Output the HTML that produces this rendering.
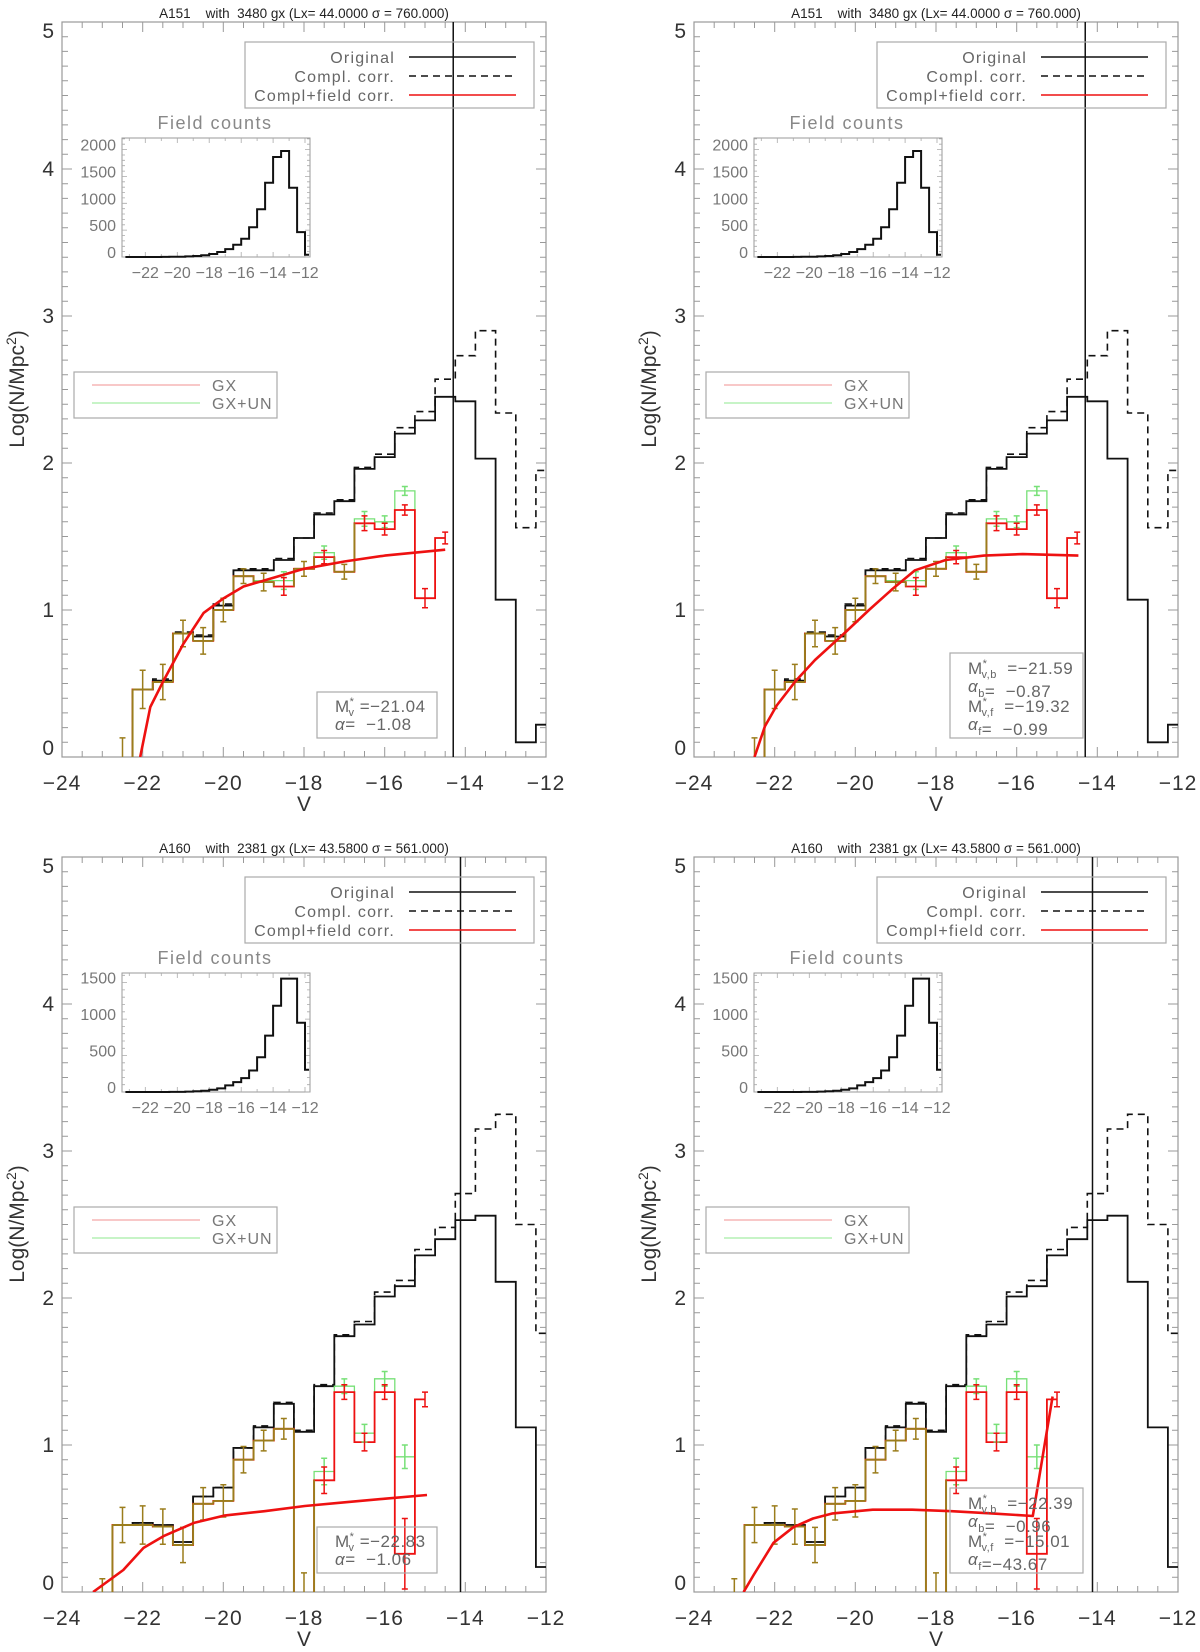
<!DOCTYPE html>
<html><head><meta charset="utf-8"><style>
html,body{margin:0;padding:0;background:#fff;overflow:hidden}
svg{display:block}
text{font-family:"Liberation Sans",sans-serif}
.pre{white-space:pre}
</style></head><body>
<svg id="fig" xmlns="http://www.w3.org/2000/svg" width="1200" height="1652" viewBox="0 0 1200 1652"></svg>
<script>
// ---------------- DATA ----------------
// A151 (top panels)
const a151Centers = [-22.5,-22,-21.5,-21,-20.5,-20,-19.5,-19,-18.5,-18,-17.5,-17,-16.5,-16,-15.5,-15,-14.5,-14,-13.5,-13,-12.5,-12];
const a151Original = [-1,0.46,0.52,0.84,0.82,1.03,1.27,1.27,1.34,1.49,1.65,1.74,1.96,2.04,2.20,2.29,2.45,2.42,2.03,1.07,0.10,0.22];
const a151Compl = [-1,0.46,0.53,0.85,0.83,1.04,1.28,1.28,1.35,1.49,1.66,1.75,1.97,2.06,2.24,2.35,2.57,2.73,2.90,2.34,1.56,1.95];
const a151FieldCenters = [-22.5,-22,-21.5,-21,-20.5,-20,-19.5,-19,-18.5,-18,-17.5,-17,-16.5,-16,-15.5,-15,-14.5];
const a151GX = [-0.5,0.46,0.51,0.84,0.79,1.00,1.23,1.19,1.16,1.28,1.36,1.26,1.59,1.55,1.68,1.08,1.49];
const a151GXUN = [-0.5,0.46,0.51,0.84,0.79,1.00,1.23,1.20,1.20,1.28,1.39,1.26,1.62,1.60,1.81,1.08,1.49];
const a151Err = [0.63,0.13,0.12,0.09,0.09,0.08,0.05,0.06,0.06,0.05,0.045,0.05,0.05,0.04,0.035,0.065,0.04];
const a151ErrUN = [0.63,0.13,0.12,0.09,0.09,0.08,0.05,0.06,0.06,0.05,0.045,0.05,0.05,0.04,0.03,0.065,0.04];
const a151FitV1 = [-22.06,-21.81,-21.48,-20.99,-20.49,-19.99,-19.5,-19.0,-18.0,-17.0,-16.0,-14.5];
const a151FitY1 = [0,0.34,0.52,0.77,0.98,1.08,1.16,1.20,1.28,1.33,1.37,1.41];
const a151FitV2 = [-22.5,-22.24,-21.95,-21.47,-21.0,-20.24,-19.66,-19.09,-18.52,-17.76,-16.81,-15.85,-14.47];
const a151FitY2 = [0,0.21,0.35,0.52,0.66,0.85,1.00,1.14,1.27,1.34,1.37,1.38,1.37];
const a151Limit = -14.3;
// A160 (bottom panels)
const a160Centers = [-23,-22.5,-22,-21.5,-21,-20.5,-20,-19.5,-19,-18.5,-18,-17.5,-17,-16.5,-16,-15.5,-15,-14.5,-14,-13.5,-13,-12.5,-12];
const a160Original = [null,0.456,0.47,0.456,0.34,0.65,0.71,0.98,1.12,1.28,1.09,1.40,1.74,1.82,2.01,2.08,2.29,2.40,2.53,2.56,2.11,1.12,0.17];
const a160Compl = [null,0.456,0.47,0.456,0.34,0.65,0.71,0.98,1.13,1.29,1.10,1.41,1.75,1.84,2.04,2.12,2.33,2.48,2.71,3.15,3.25,2.50,1.76];
const a160FieldCenters = [-23,-22.5,-22,-21.5,-21,-20.5,-20,-19.5,-19,-18.5,-18,-17.5,-17,-16.5,-16,-15.5,-15];
const a160GX = [-0.6,0.456,0.456,0.445,0.32,0.60,0.62,0.90,1.03,1.11,-0.5,0.76,1.36,1.02,1.36,0.26,1.31];
const a160GXUN = [-0.6,0.456,0.456,0.445,0.32,0.60,0.62,0.90,1.03,1.11,-0.5,0.82,1.40,1.08,1.45,0.92,1.31];
const a160Err = [0.69,0.12,0.13,0.12,0.12,0.11,0.11,0.09,0.07,0.07,0.63,0.09,0.05,0.06,0.05,0.24,0.05];
const a160ErrUN = [0.69,0.12,0.13,0.12,0.12,0.11,0.11,0.09,0.07,0.07,0.63,0.09,0.05,0.06,0.05,0.08,0.05];
const a160FitV1 = [-23.23,-22.48,-21.98,-21.48,-20.73,-19.98,-18.98,-17.98,-16.99,-15.99,-14.95];
const a160FitY1 = [0,0.15,0.30,0.38,0.47,0.52,0.55,0.585,0.61,0.635,0.66];
const a160FitV2 = [-22.77,-22.52,-22.03,-21.54,-21.05,-20.56,-19.57,-18.59,-17.61,-16.62,-15.60,-15.11];
const a160FitY2 = [0,0.116,0.335,0.44,0.50,0.535,0.56,0.56,0.55,0.535,0.517,1.33];
const a160Limit = -14.12;
// Inset field counts
const insetCenters = [-23.25,-22.75,-22.25,-21.75,-21.25,-20.75,-20.25,-19.75,-19.25,-18.75,-18.25,-17.75,-17.25,-16.75,-16.25,-15.75,-15.25,-14.75,-14.25,-13.75,-13.25,-12.75,-12.25,-11.75];
const a151Field = [0,0,0,0,0,1,3,6,12,19,31,56,93,148,228,339,555,888,1382,1863,1974,1289,463,43];
const a160Field = [0,0,0,0,0,0,1,2,5,9,18,32,50,91,136,191,295,477,773,1182,1555,1555,950,305];
const a151FieldTicks = [0,500,1000,1500,2000];
const a160FieldTicks = [0,500,1000,1500];
const insetXTicks = [-22,-20,-18,-16,-14,-12];
const xTicks = [-24,-22,-20,-18,-16,-14,-12];
const yTicks = [0,1,2,3,4,5];

// ---------------- DRAWING ----------------
const NS = "http://www.w3.org/2000/svg";
const svg = document.getElementById("fig");
function mk(tag, attrs, parent) {
  const e = document.createElementNS(NS, tag);
  for (const k in attrs) e.setAttribute(k, attrs[k]);
  (parent || svg).appendChild(e);
  return e;
}
const BROWN = "#9b7d1c", RED = "#ee1111", GREEN = "#77e077";
const PW = 484, PH = 735;
const FLOOR = -0.1;
function minus(v) { return String(v).replace("-", "\u2212"); }
function cl(v) { return Math.max(v, FLOOR); }

function stepPath(centers, vals, X, Y) {
  let d = "", prevC = null, prevOk = false;
  for (let i = 0; i < centers.length; i++) {
    const v = vals[i];
    if (v === null || v === undefined) { if (prevOk) d += " H" + X(prevC).toFixed(1); prevOk = false; continue; }
    const yv = Y(cl(v)).toFixed(1);
    if (!prevOk) d += " M" + X(centers[i]).toFixed(1) + " " + yv;
    else { const edge = (prevC + centers[i]) / 2; d += " H" + X(edge).toFixed(1) + " V" + yv; }
    prevC = centers[i]; prevOk = true;
  }
  if (prevOk) d += " H" + X(prevC).toFixed(1);
  return d;
}

function panel(cfg) {
  const ox = cfg.ox, oy = cfg.oy;
  const g = mk("g", {});
  
  
  const X = v => ox + (v + 24) * PW / 12;
  const Y = v => oy + PH - v * 147;
  const clipId = "clip-" + cfg.name;
  const cp = mk("clipPath", { id: clipId }, g);
  mk("rect", { x: ox, y: oy, width: PW, height: PH }, cp);

  const t = mk("text", { x: ox + 242, y: oy - 4, "font-size": 13.5, "text-anchor": "middle", fill: "#222", "class": "pre" }, g);
  
  
  t.textContent = cfg.title;

  const fr = mk("rect", { x: ox, y: oy, width: PW, height: PH, fill: "none", stroke: "#999", "stroke-width": 1.2 }, g);
  
  

  let td = "";
  for (let k = 0; k <= 50; k++) {
    const v = k / 10, yy = Y(v).toFixed(1), L = (k % 10 === 0) ? 10 : 6;
    td += `M${ox} ${yy}h${L}M${ox + PW} ${yy}h${-L}`;
  }
  for (let k = 0; k <= 24; k++) {
    const v = -24 + k * 0.5, xx = X(v).toFixed(1), L = (k % 4 === 0) ? 10 : 6;
    td += `M${xx} ${oy + PH}v${-L}M${xx} ${oy}v${L}`;
  }
  const tk = mk("path", { d: td, stroke: "#999", "stroke-width": 1, fill: "none" }, g);
  
  

  xTicks.forEach(v => {
    const l = mk("text", { x: X(v), y: oy + PH + 33, "font-size": 21, "text-anchor": "middle", fill: "#333", "letter-spacing": 1 }, g);
    
    
    l.textContent = minus(v);
  });
  yTicks.forEach(v => {
    const off = v === 0 ? -9 : (v === 5 ? 9 : 0);
    const l = mk("text", { x: ox - 8, y: Y(v) + off + 7, "font-size": 21, "text-anchor": "end", fill: "#333" }, g);
    
    
    l.textContent = v;
  });
  const xl = mk("text", { x: ox + 242, y: oy + PH + 54, "font-size": 21, "text-anchor": "middle", fill: "#333" }, g);
  
  
  xl.textContent = "V";
  const yl = mk("text", { x: 0, y: 0, "font-size": 21, "text-anchor": "middle", fill: "#333", transform: `translate(${ox - 38},${oy + 367}) rotate(-90)` }, g);
  
  
  yl.innerHTML = 'Log(N/Mpc<tspan dy="-8" font-size="14">2</tspan><tspan dy="8">)</tspan>';

  const pg = mk("g", { "clip-path": `url(#${clipId})` }, g);
  const dsh = mk("path", { d: stepPath(cfg.centers, cfg.compl, X, Y), stroke: "#111", "stroke-width": 1.6, fill: "none", "stroke-dasharray": "7,5" }, pg);
  
  
  const sol = mk("path", { d: stepPath(cfg.centers, cfg.orig, X, Y), stroke: "#111", "stroke-width": 1.8, fill: "none" }, pg);
  
  
  const gp = mk("path", { d: stepPath(cfg.fcenters, cfg.gxun, X, Y), stroke: GREEN, "stroke-width": 1.3, fill: "none" }, pg);
  
  
  const rp = mk("path", { d: stepPath(cfg.fcenters, cfg.gx, X, Y), stroke: RED, "stroke-width": 1.8, fill: "none" }, pg);
  
  
  const fc = cfg.fcenters, n = fc.length;
  const isMix = i => i >= 0 && i < n && fc[i] <= cfg.mixMax && Math.abs(cfg.gx[i] - cfg.gxun[i]) < 0.015;
  let bd = "";
  for (let i = 0; i < n; i++) {
    if (!isMix(i)) continue;
    const v = cl(cfg.gx[i]);
    const le = i > 0 ? (fc[i - 1] + fc[i]) / 2 : fc[i];
    const re = i < n - 1 ? (fc[i] + fc[i + 1]) / 2 : fc[i];
    bd += `M${X(le).toFixed(1)} ${Y(v).toFixed(1)}H${X(re).toFixed(1)}`;
    if (i > 0) bd += `M${X(le).toFixed(1)} ${Y(cl(cfg.gx[i - 1])).toFixed(1)}V${Y(v).toFixed(1)}`;
    if (i < n - 1) bd += `M${X(re).toFixed(1)} ${Y(v).toFixed(1)}V${Y(cl(cfg.gx[i + 1])).toFixed(1)}`;
  }
  const bp = mk("path", { d: bd, stroke: BROWN, "stroke-width": 1.9, fill: "none" }, pg);
  
  
  function ebar(c, v, e, col, name) {
    const xx = X(c), lo = v - e;
    const y1 = Y(v + e), y2 = Y(cl(lo));
    let d = `M${xx} ${y1}V${y2}M${xx - 3} ${y1}h6`;
    if (lo >= FLOOR) d += `M${xx - 3} ${y2}h6`;
    const b = mk("path", { d: d, stroke: col, "stroke-width": 1.5, fill: "none" }, pg);
    
    
  }
  for (let i = 0; i < n; i++) {
    if (isMix(i)) { ebar(fc[i], cfg.gx[i], cfg.err[i], BROWN, 'error-bar'); continue; }
    if (Math.abs(cfg.gx[i] - cfg.gxun[i]) >= 0.015) ebar(fc[i], cfg.gxun[i], cfg.errun[i], GREEN, 'gx-un-error-bar');
    ebar(fc[i], cfg.gx[i], cfg.err[i], RED, 'gx-error-bar');
  }
  const fd = cfg.fitV.map((v, i) => (i ? "L" : "M") + X(v).toFixed(1) + " " + Y(cfg.fitY[i]).toFixed(1)).join("");
  const fp = mk("path", { d: fd, stroke: RED, "stroke-width": 2.6, fill: "none", "stroke-linejoin": "round" }, pg);
  
  
  const vl = mk("line", { x1: X(cfg.limit), x2: X(cfg.limit), y1: oy, y2: oy + PH, stroke: "#111", "stroke-width": 1.5 }, g);
  
  

  const lg = mk("g", {}, g);
  
  
  mk("rect", { x: ox + 183, y: oy + 20, width: 289, height: 66, fill: "none", stroke: "#aaa", "stroke-width": 1.2 }, lg);
  [["Original", "#111", null], ["Compl. corr.", "#111", "7,5"], ["Compl+field corr.", RED, null]].forEach((r, i) => {
    const yy = oy + 35 + i * 19;
    const tx = mk("text", { x: ox + 333, y: yy + 6, "font-size": 16, "text-anchor": "end", fill: "#666", "letter-spacing": 1.2 }, lg);
    
    
    tx.textContent = r[0];
    const ln = mk("line", { x1: ox + 347, x2: ox + 454, y1: yy, y2: yy, stroke: r[1], "stroke-width": 1.6 }, lg);
    if (r[2]) ln.setAttribute("stroke-dasharray", r[2]);
    
    
  });
  const lg2 = mk("g", {}, g);
  
  
  mk("rect", { x: ox + 12, y: oy + 350, width: 203, height: 46, fill: "none", stroke: "#aaa", "stroke-width": 1.2 }, lg2);
  [["GX", "#f09090"], ["GX+UN", "#8fe88f"]].forEach((r, i) => {
    const yy = oy + 363 + i * 18;
    const ln = mk("line", { x1: ox + 30, x2: ox + 138, y1: yy, y2: yy, stroke: r[1], "stroke-width": 1 }, lg2);
    
    
    const tx = mk("text", { x: ox + 150, y: yy + 6, "font-size": 16, fill: "#777", "letter-spacing": 1 }, lg2);
    
    
    tx.textContent = r[0];
  });
  const sb = mk("g", {}, g);
  
  
  if (cfg.stats.length === 2) {
    mk("rect", { x: ox + 255, y: oy + 670, width: 120, height: 46, fill: "none", stroke: "#aaa", "stroke-width": 1.2 }, sb);
  } else {
    mk("rect", { x: ox + 256, y: oy + 631, width: 133, height: 85, fill: "none", stroke: "#aaa", "stroke-width": 1.2 }, sb);
  }
  const rows = cfg.stats.length === 2 ? [683, 701] : [645, 663, 683, 701];
  cfg.stats.forEach((s, i) => {
    const tx = mk("text", { x: ox + (cfg.stats.length === 2 ? 273 : 274), y: oy + rows[i] + 7, "font-size": 17, fill: "#666", "letter-spacing": 0.5, "class": "pre" }, sb);
    
    
    tx.innerHTML = s;
  });

  const ig = mk("g", {}, g);
  
  
  const ix0 = ox + 60, iy0 = oy + 116, iw = 188, ih = 119;
  const IX = v => ix0 + (v + 23.46) * iw / 11.77;
  const IY = v => iy0 + ih - v * ih / cfg.fieldMax;
  const it = mk("text", { x: ox + 153, y: oy + 107, "font-size": 18, "text-anchor": "middle", fill: "#888", "letter-spacing": 1.5 }, ig);
  
  
  it.textContent = "Field counts";
  mk("rect", { x: ix0, y: iy0, width: iw, height: ih, fill: "none", stroke: "#999", "stroke-width": 1 }, ig);
  let itd = "";
  for (let v = -23; v <= -12; v += 1) { const xx = IX(v).toFixed(1); const L = v % 2 === 0 ? 5 : 3; itd += `M${xx} ${iy0}v${L}M${xx} ${iy0 + ih}v${-L}`; }
  for (let k = 0; k * 100 <= cfg.fieldMax; k++) { const yy = IY(k * 100).toFixed(1); const L = k % 5 === 0 ? 5 : 3; itd += `M${ix0} ${yy}h${L}M${ix0 + iw} ${yy}h${-L}`; }
  mk("path", { d: itd, stroke: "#aaa", "stroke-width": 0.8, fill: "none" }, ig);
  const ih1 = mk("path", { d: stepPath(insetCenters, cfg.field, IX, IY), stroke: "#111", "stroke-width": 2, fill: "none" }, ig);
  
  
  cfg.fieldTicks.forEach(v => {
    const l = mk("text", { x: ix0 - 6, y: IY(v) + 1, "font-size": 16, "text-anchor": "end", fill: "#777" }, ig);
    
    
    l.textContent = v;
  });
  insetXTicks.forEach(v => {
    const l = mk("text", { x: IX(v), y: iy0 + ih + 21, "font-size": 16, "text-anchor": "middle", fill: "#777" }, ig);
    
    
    l.textContent = minus(v);
  });
}

const Ms = (sub) => `M<tspan dy="-7" font-size="11">*</tspan><tspan dy="11" dx="-6" font-size="11">${sub}</tspan><tspan dy="-4"> </tspan>`;
const Al = (sub) => `<tspan font-style="italic">α</tspan>${sub ? `<tspan dy="5" font-size="11">${sub}</tspan><tspan dy="-5"></tspan>` : ""}`;

const t151 = "A151    with  3480 gx (Lx= 44.0000 σ = 760.000)";
const t160 = "A160    with  2381 gx (Lx= 43.5800 σ = 561.000)";
const base151 = { title: t151, centers: a151Centers, orig: a151Original, compl: a151Compl, fcenters: a151FieldCenters, gx: a151GX, gxun: a151GXUN, err: a151Err, errun: a151ErrUN, limit: a151Limit, mixMax: -17, field: a151Field, fieldMax: 2216, fieldTicks: a151FieldTicks };
const base160 = { title: t160, centers: a160Centers, orig: a160Original, compl: a160Compl, fcenters: a160FieldCenters, gx: a160GX, gxun: a160GXUN, err: a160Err, errun: a160ErrUN, limit: a160Limit, mixMax: -18, field: a160Field, fieldMax: 1632, fieldTicks: a160FieldTicks };

panel(Object.assign({}, base151, { name: "panel-a151-single", ox: 62, oy: 22, fitV: a151FitV1, fitY: a151FitY1,
  stats: [Ms("v") + "=\u221221.04", Al("") + "=  \u22121.08"] }));
panel(Object.assign({}, base151, { name: "panel-a151-double", ox: 694, oy: 22, fitV: a151FitV2, fitY: a151FitY2,
  stats: [Ms("v,b") + " =\u221221.59", Al("b") + "=  \u22120.87", Ms("v,f") + " =\u221219.32", Al("f") + "=  \u22120.99"] }));
panel(Object.assign({}, base160, { name: "panel-a160-single", ox: 62, oy: 857, fitV: a160FitV1, fitY: a160FitY1,
  stats: [Ms("v") + "=\u221222.83", Al("") + "=  \u22121.06"] }));
panel(Object.assign({}, base160, { name: "panel-a160-double", ox: 694, oy: 857, fitV: a160FitV2, fitY: a160FitY2,
  stats: [Ms("v,b") + " =\u221222.39", Al("b") + "=  \u22120.96", Ms("v,f") + " =\u221215.01", Al("f") + "=\u221243.67"] }));
</script>
</body></html>
